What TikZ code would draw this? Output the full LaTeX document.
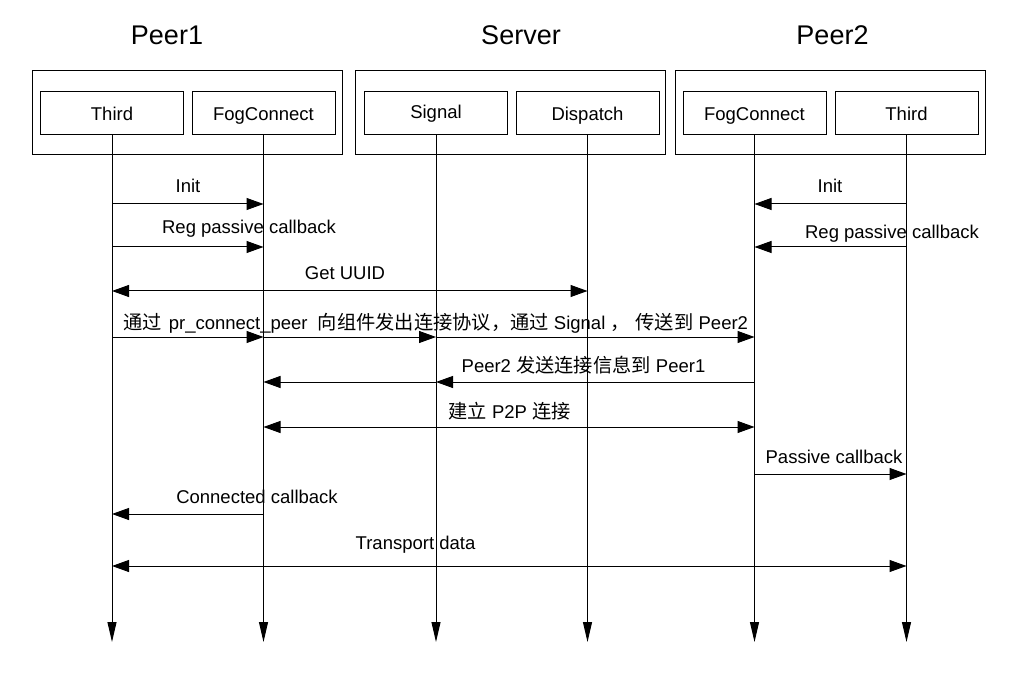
\documentclass[tikz,border=0pt]{standalone}
\usepackage{fontspec}
\setmainfont{Liberation Sans}
\newfontfamily\cjk[Scale=1.04]{Noto Sans CJK SC}
\usetikzlibrary{arrows.meta}
\begin{document}
\begin{tikzpicture}[x=1pt,y=-1pt,
  every node/.style={inner sep=0pt, font=\fontsize{18.5}{22}\selectfont},
  group/.style={draw, line width=1pt, minimum width=310pt, minimum height=84pt},
  comp/.style={draw, line width=1pt, minimum width=143pt, minimum height=43pt, text height=14pt, text depth=0pt},
  title/.style={font=\fontsize{27}{32}\selectfont},
  life/.style={line width=1pt, -{Triangle[length=20pt,width=9pt]}},
  msg/.style={line width=1pt, -{Triangle[length=17pt,width=12pt]}},
  bmsg/.style={line width=1pt, {Triangle[length=17pt,width=12pt]}-{Triangle[length=17pt,width=12pt]}},
  lbl/.style={anchor=base}]
\useasboundingbox (0,0) rectangle (1011,684);
\fill[white] (0,0) rectangle (1011,684);
% titles
\node[title] (tp1) at (167,35) {Peer1};
\node[title] (tsv) at (521,35) {Server};
\node[title] (tp2) at (832.5,35) {Peer2};
% group boxes
\node[group] (g1) at (187,113) {};
\node[group] (g2) at (510,113) {};
\node[group] (g3) at (830,113) {};
% components
\node[comp] (T1) at (112,113.5) {Third};
\node[comp] (F1) at (263.5,113.5) {FogConnect};
\node[comp] (S) at (436,113.5) {\raisebox{2pt}{Signal}};
\node[comp] (D) at (587.5,113.5) {Dispatch};
\node[comp] (F2) at (754.5,113.5) {FogConnect};
\node[comp] (T2) at (906.5,113.5) {Third};
% bottom and rows
\coordinate (bot) at (0,642);
\coordinate (r1) at (0,204);
\coordinate (r2) at (0,247);
\coordinate (r3) at (0,291);
\coordinate (r4) at (0,337);
\coordinate (r5) at (0,382);
\coordinate (r6) at (0,427);
\coordinate (r7) at (0,474);
\coordinate (r8) at (0,514);
\coordinate (r9) at (0,566);
% lifelines
\foreach \n in {T1,F1,S,D,F2,T2}
  \draw[life] (\n.south) -- (\n.south |- bot);
% messages
\draw[msg] (T1 |- r1) -- (F1 |- r1);
\node[lbl] (m1) at (188,193) {Init};
\draw[msg] (T1 |- r2) -- (F1 |- r2);
\node[lbl] (m2) at (249,234) {Reg passive callback};
\draw[msg] (T2 |- r1) -- (F2 |- r1);
\node[lbl] (m1b) at (830,193) {Init};
\draw[msg] (T2 |- r2) -- (F2 |- r2);
\node[lbl] (m2b) at (892,239) {Reg passive callback};
\draw[bmsg] (T1 |- r3) -- (D |- r3);
\node[lbl] (m3) at (345,280) {Get UUID};
\draw[msg] (T1 |- r4) -- (F1 |- r4);
\draw[msg] (F1 |- r4) -- (S |- r4);
\draw[msg] (S |- r4) -- (F2 |- r4);
\node[anchor=base west] (m4) at (123,329) {{\cjk 通过}\hspace{2pt} pr\_connect\_peer\ \ {\cjk 向组件发出连接协议，通过} Signal {\cjk ，}\hspace{6pt}{\cjk 传送到} Peer2};
\draw[msg] (F2 |- r5) -- (S |- r5);
\draw[msg] (S |- r5) -- (F1 |- r5);
\node[lbl] (m5) at (583.5,372) {Peer2 {\cjk 发送连接信息到} Peer1};
\draw[bmsg] (F1 |- r6) -- (F2 |- r6);
\node[lbl] (m6) at (509.5,418) {{\cjk 建立} P2P {\cjk 连接}};
\draw[msg] (F2 |- r7) -- (T2 |- r7);
\node[lbl] (m7) at (834,463) {Passive callback};
\draw[msg] (F1 |- r8) -- (T1 |- r8);
\node[lbl] (m8) at (257,503) {Connected callback};
\draw[bmsg] (T1 |- r9) -- (T2 |- r9);
\node[lbl] (m9) at (415.5,549) {Transport data};
\end{tikzpicture}
\end{document}
